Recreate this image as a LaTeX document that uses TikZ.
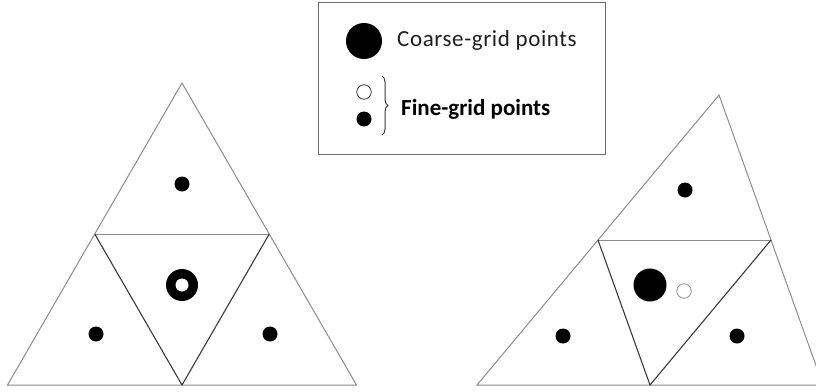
\documentclass[tikz,border=0pt]{standalone}
\usepackage{fontspec}
\setmainfont{Carlito}
\newfontfamily\coarsefont[LetterSpace=2.6]{Carlito}
\usetikzlibrary{decorations.pathreplacing,calc}
\definecolor{edgegray}{HTML}{8C8C8C}
\definecolor{innergray}{HTML}{3A3A3A}
\definecolor{boxgray}{HTML}{6E6E6E}
\begin{document}
\begin{tikzpicture}[x=1pt,y=-1pt,
  outer/.style={draw=edgegray,line width=1pt,line join=miter},
  inner/.style={draw=innergray,line width=1.1pt},
  finedot/.style={circle,fill=black,draw=none,minimum size=15pt,inner sep=0pt},
  fineopen/.style={circle,fill=white,draw=innergray,line width=0.8pt,minimum size=14.5pt,inner sep=0pt},
  coarsedot/.style={circle,fill=black,draw=none,minimum size=33pt,inner sep=0pt},
  legtext/.style={anchor=base west,inner sep=0pt}
]
\useasboundingbox (0,0) rectangle (816,391);
\begin{scope}
\clip (0,0) rectangle (816,391);
% left triangle
\coordinate (LA) at (182,83);
\coordinate (LBL) at (7.5,385);
\coordinate (LBR) at (356.5,385);
\coordinate (LML) at ($(LA)!0.5!(LBL)$);
\coordinate (LMR) at ($(LA)!0.5!(LBR)$);
\coordinate (LMB) at ($(LBL)!0.5!(LBR)$);
\draw[outer] (LA) -- (LBL) -- (LBR) -- cycle;
\draw[outer] (LML) -- (LMR);
\draw[inner] (LML) -- (LMB) -- (LMR);
% right triangle
\coordinate (RA) at (719,95);
\coordinate (RBL) at (477,385);
\coordinate (RBR) at (823,385);
\coordinate (RML) at ($(RA)!0.5!(RBL)$);
\coordinate (RMR) at ($(RA)!0.5!(RBR)$);
\coordinate (RMB) at ($(RBL)!0.5!(RBR)$);
\draw[outer] (RA) -- (RBL) -- (RBR) -- cycle;
\draw[outer] (RML) -- (RMR);
\draw[inner] (RML) -- (RMB) -- (RMR);
\end{scope}
% left points
\node[finedot] (lt) at (182,184) {};
\node[finedot] (ll) at (96,334) {};
\node[finedot] (lr) at (270,334) {};
\node[circle,fill=black,minimum size=32pt,inner sep=0pt] (lc) at (182,285) {};
\node[circle,fill=white,minimum size=13pt,inner sep=0pt] (lcf) at (182,285) {};
% right points
\node[finedot] (rt) at (685,190) {};
\node[finedot] (rl) at (563,336) {};
\node[finedot] (rr) at (737,336) {};
\node[coarsedot] (rc) at (650,285) {};
\node[fineopen,draw=edgegray] (rf) at (684,291) {};
% legend
\node[draw=boxgray,line width=1.5pt,minimum width=287pt,minimum height=152pt,inner sep=0pt,anchor=north west] (box) at (317.5,1.5) {};
\node[circle,fill=black,minimum size=36pt,inner sep=0pt] (legc) at (364,41) {};
\node[legtext,text=black!88,font=\coarsefont\fontsize{23}{25}\selectfont] (tc) at (397,46.5) {Coarse-grid points};
\node[fineopen] (lego) at (364,92) {};
\node[finedot] (legf) at (364,119) {};
\draw[decorate,decoration={brace,amplitude=6pt},draw=innergray,line width=1pt] (382,76) -- (382,135);
\node[legtext,font=\fontsize{23}{25}\selectfont\bfseries] (tf) at (401,115.7) {Fine-grid points};
\end{tikzpicture}
\end{document}
